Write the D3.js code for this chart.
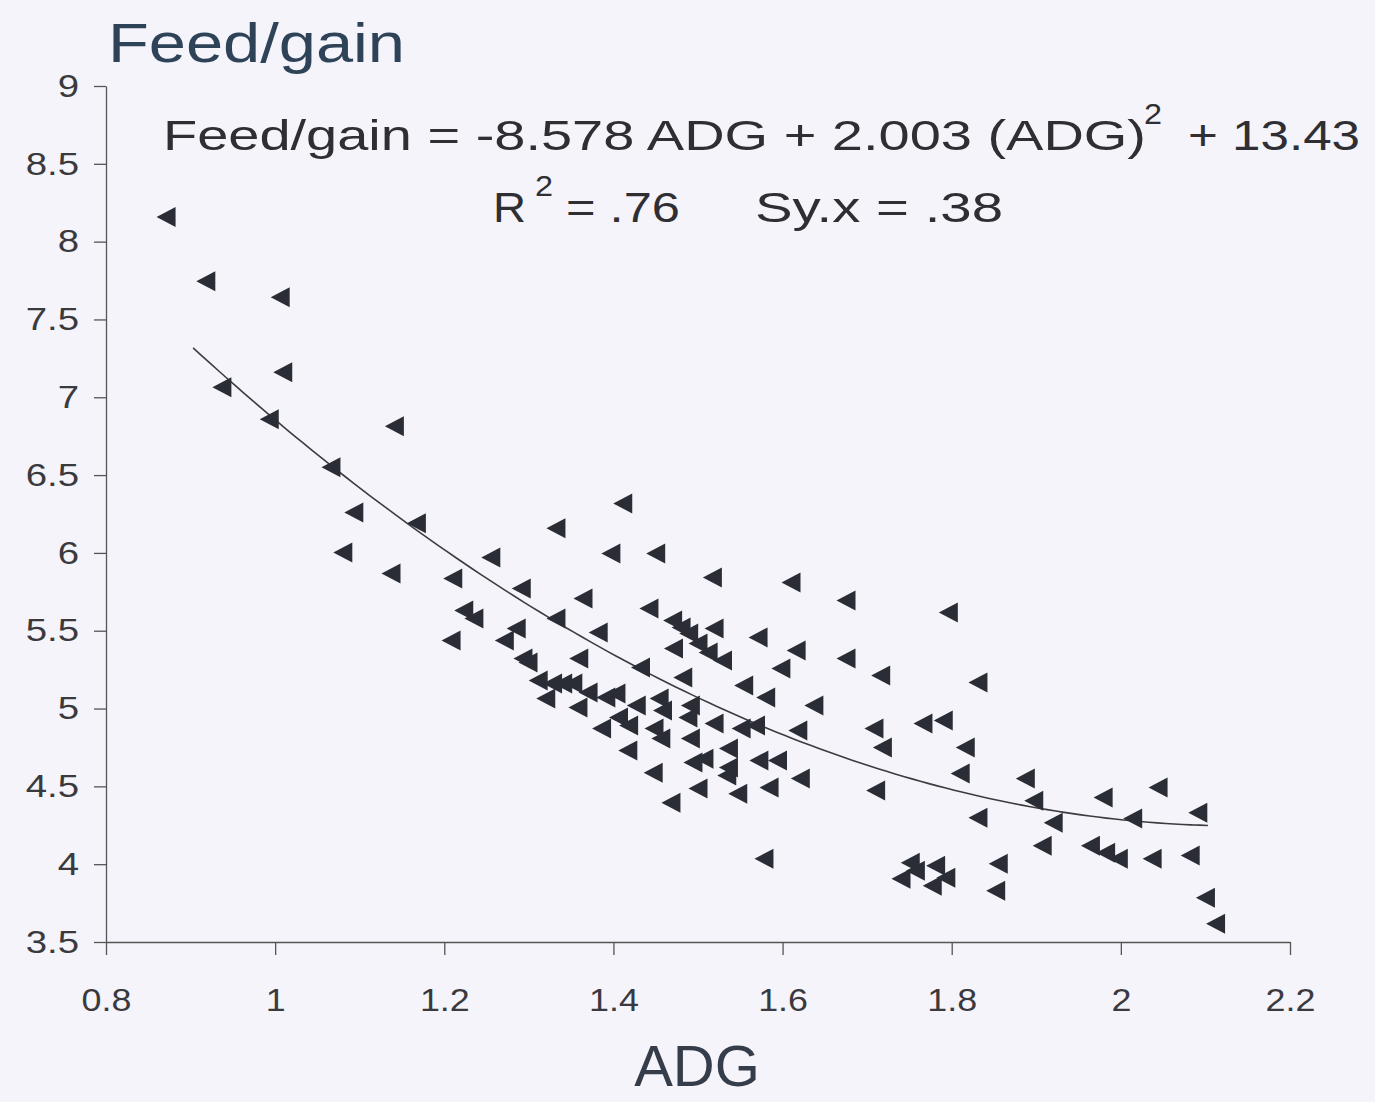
<!DOCTYPE html>
<html>
<head>
<meta charset="utf-8">
<script src="https://cdn.jsdelivr.net/npm/d3@7"></script>
<style>
  html, body { margin: 0; padding: 0; background: #f4f4fa; }
  svg { display: block; font-family: "Liberation Sans", Arial, Helvetica, sans-serif; }
</style>
</head>
<body>
<svg id="chart" width="1375" height="1102"></svg>
<script>
// ---- Data ----
const adg = [0.871,0.918,1.006,0.937,1.009,0.993,1.141,1.066,1.093,1.080,1.167,1.137,1.210,1.255,1.223,1.235,1.208,1.291,1.271,1.285,1.293,1.299,1.332,1.332,1.364,1.359,1.382,1.311,1.328,1.340,1.352,1.370,1.320,1.358,1.386,1.391,1.403,1.406,1.418,1.427,1.411,1.397,1.450,1.517,1.610,1.675,1.442,1.470,1.480,1.489,1.500,1.512,1.529,1.519,1.471,1.571,1.616,1.598,1.432,1.482,1.554,1.580,1.637,1.454,1.458,1.491,1.488,1.448,1.456,1.491,1.519,1.551,1.568,1.618,1.417,1.536,1.494,1.507,1.536,1.572,1.594,1.621,1.447,1.500,1.547,1.584,1.468,1.578,1.796,1.675,1.716,1.831,1.708,1.718,1.766,1.790,1.816,1.810,1.710,1.887,1.897,1.979,2.044,1.831,1.920,2.014,2.091,1.907,1.964,1.982,1.997,2.037,2.082,1.751,1.757,1.781,1.740,1.777,1.793,1.855,1.852,2.100,2.112,1.534];
const feedGain = [8.158,7.746,7.643,7.064,7.161,6.859,6.814,6.550,6.260,6.003,6.190,5.868,5.836,5.971,5.630,5.579,5.437,5.772,5.437,5.514,5.322,5.296,6.158,5.579,5.707,5.322,5.489,5.180,5.161,5.161,5.161,5.103,5.064,5.006,4.871,5.071,5.096,4.942,4.891,5.019,6.318,5.997,5.997,5.842,5.810,5.695,5.643,5.566,5.521,5.482,5.418,5.360,5.309,5.514,5.386,5.457,5.373,5.257,5.264,5.199,5.148,5.071,5.019,5.064,4.987,5.019,4.942,4.871,4.807,4.807,4.904,4.871,4.891,4.859,4.730,4.743,4.653,4.678,4.621,4.666,4.666,4.550,4.588,4.486,4.453,4.492,4.395,4.035,5.617,5.322,5.212,5.167,4.871,4.749,4.904,4.923,4.749,4.582,4.473,4.550,4.408,4.428,4.492,4.299,4.267,4.293,4.331,4.119,4.119,4.074,4.035,4.035,4.055,4.010,3.958,3.990,3.907,3.862,3.913,4.003,3.830,3.785,3.617,4.569];

const xTicks = [0.8, 1, 1.2, 1.4, 1.6, 1.8, 2, 2.2];
const xTickLabels = ["0.8", "1", "1.2", "1.4", "1.6", "1.8", "2", "2.2"];
const yTicks = [3.5, 4, 4.5, 5, 5.5, 6, 6.5, 7, 7.5, 8, 8.5, 9];
const yTickLabels = ["3.5", "4", "4.5", "5", "5.5", "6", "6.5", "7", "7.5", "8", "8.5", "9"];

// Fitted equation: Feed/gain = -8.578 ADG + 2.003 (ADG)^2 + 13.43
const fitLinear = -8.578;
const fitQuadratic = 2.003;
const fitIntercept = 13.43;
const fitRange = [0.903, 2.105];

// ---- Chart ----
const svg = d3.select("#chart");
const ink = "#2a2d35";

const x = d3.scaleLinear().domain([0.8, 2.2]).range([106, 1290]);
const y = d3.scaleLinear().domain([3.5, 9]).range([942, 86]);

function stretch(sel, f) {
  sel.each(function () {
    const w = this.getComputedTextLength();
    d3.select(this).attr("textLength", w * f).attr("lengthAdjust", "spacingAndGlyphs");
  });
}

// Y axis
const yAxis = svg.append("g")
  .attr("transform", `translate(${x(0.8)},0)`)
  .call(d3.axisLeft(y).tickValues(yTicks)
    .tickFormat((d, i) => yTickLabels[i]).tickSize(12).tickSizeOuter(0).tickPadding(15));
yAxis.select(".domain").attr("stroke", "#555").attr("stroke-width", 1.3);
yAxis.selectAll(".tick line").attr("stroke", "#555").attr("stroke-width", 1.3);
yAxis.selectAll("text").attr("font-size", 32).attr("fill", "#3a3a3e")
  .attr("font-family", "'Liberation Sans', Arial, sans-serif");
stretch(yAxis.selectAll("text"), 1.2);

// X axis
const xAxis = svg.append("g")
  .attr("transform", `translate(0,${y(3.5)})`)
  .call(d3.axisBottom(x).tickValues(xTicks)
    .tickFormat((d, i) => xTickLabels[i]).tickSize(13).tickSizeOuter(0).tickPadding(33));
xAxis.select(".domain").attr("stroke", "#555").attr("stroke-width", 1.3);
xAxis.selectAll(".tick line").attr("stroke", "#555").attr("stroke-width", 1.3);
xAxis.selectAll("text").attr("font-size", 32).attr("fill", "#3a3a3e")
  .attr("font-family", "'Liberation Sans', Arial, sans-serif");
stretch(xAxis.selectAll("text"), 1.12);

// Fitted curve
const fitX = d3.range(fitRange[0], fitRange[1] + 1e-9, 0.01);
const line = d3.line()
  .x(d => x(d))
  .y(d => y(fitIntercept + fitLinear * d + fitQuadratic * d * d))
  .curve(d3.curveMonotoneX);
svg.append("path")
  .datum(fitX)
  .attr("fill", "none")
  .attr("stroke", "#3c3c40")
  .attr("stroke-width", 1.6)
  .attr("d", line);

// Points: left-pointing triangles
const tri = "M-9.5,0L9.5,-10L9.5,10Z";
svg.append("g").selectAll("path")
  .data(adg.map((v, i) => [v, feedGain[i]]))
  .join("path")
  .attr("d", tri)
  .attr("transform", d => `translate(${x(d[0])},${y(d[1])})`)
  .attr("fill", ink);

// Titles
svg.append("text")
  .attr("x", 108).attr("y", 62)
  .attr("font-size", 56).attr("fill", "#2e4258")
  .attr("textLength", 297).attr("lengthAdjust", "spacingAndGlyphs")
  .text("Feed/gain");

svg.append("text")
  .attr("x", 697).attr("y", 1086)
  .attr("text-anchor", "middle")
  .attr("font-size", 58).attr("fill", "#353c4a")
  .text("ADG");

// Equation annotation
const eq = svg.append("g").attr("fill", "#2f2f33");
eq.append("text").attr("x", 163).attr("y", 150).attr("font-size", 43)
  .attr("textLength", 983).attr("lengthAdjust", "spacingAndGlyphs")
  .text("Feed/gain = -8.578 ADG + 2.003 (ADG)");
eq.append("text").attr("x", 1144).attr("y", 124).attr("font-size", 30)
  .attr("textLength", 18).attr("lengthAdjust", "spacingAndGlyphs")
  .text("2");
eq.append("text").attr("x", 1188).attr("y", 150).attr("font-size", 43)
  .attr("textLength", 172).attr("lengthAdjust", "spacingAndGlyphs")
  .text("+ 13.43");

eq.append("text").attr("x", 493).attr("y", 222).attr("font-size", 43)
  .attr("textLength", 33).attr("lengthAdjust", "spacingAndGlyphs")
  .text("R");
eq.append("text").attr("x", 535).attr("y", 196).attr("font-size", 30)
  .attr("textLength", 18).attr("lengthAdjust", "spacingAndGlyphs")
  .text("2");
eq.append("text").attr("x", 566).attr("y", 222).attr("font-size", 43)
  .attr("textLength", 114).attr("lengthAdjust", "spacingAndGlyphs")
  .text("= .76");
eq.append("text").attr("x", 755).attr("y", 222).attr("font-size", 43)
  .attr("textLength", 248).attr("lengthAdjust", "spacingAndGlyphs")
  .text("Sy.x = .38");
</script>
</body>
</html>
